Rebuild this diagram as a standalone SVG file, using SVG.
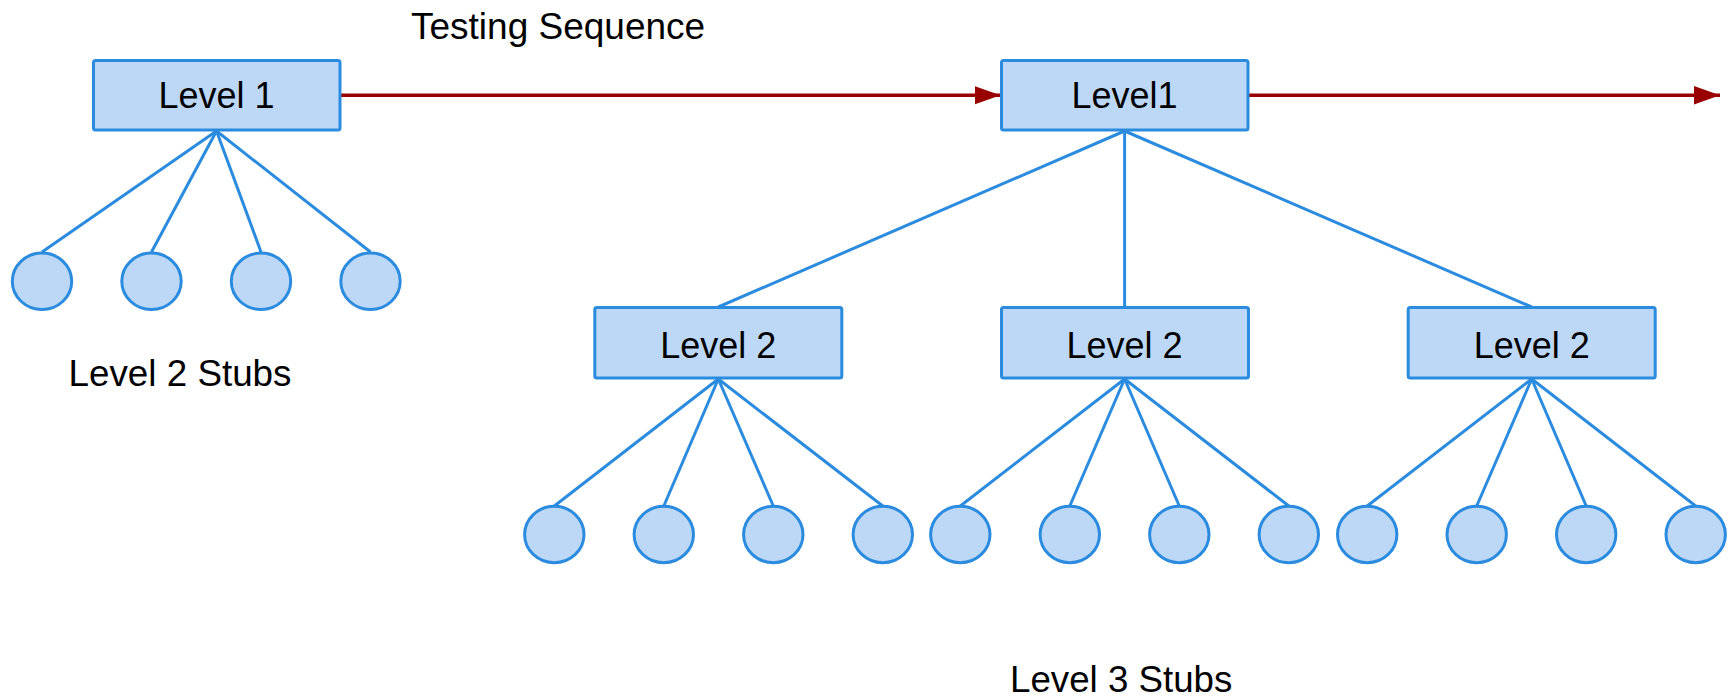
<svg xmlns="http://www.w3.org/2000/svg" width="1733" height="698" viewBox="0 0 1733 698">
<style>
.box{fill:#BCD8F6;stroke:#2B8BDE;stroke-width:3}
.stub{fill:#BCD8F6;stroke:#2B8BDE;stroke-width:3}
.link{stroke:#2B8BDE;stroke-width:3;fill:none}
.seq{stroke:#990000;stroke-width:3.5;fill:none}
text{font-family:"Liberation Sans",Arial,sans-serif;font-size:36px;fill:#000}
.c{text-anchor:middle}
</style>
<defs>
<marker id="ah" markerUnits="userSpaceOnUse" markerWidth="27" markerHeight="19" refX="26" refY="9.2" orient="auto">
<path d="M0,0 L26,9.2 L0,18.4 z" fill="#990000"/>
</marker>
</defs>
<rect width="1733" height="698" fill="#fff"/>
<g id="connectors">
<line class="seq" x1="341" y1="95.3" x2="1000.5" y2="95.3" marker-end="url(#ah)"/>
<line class="seq" x1="1249" y1="95.3" x2="1720" y2="95.3" marker-end="url(#ah)"/>
<line class="link" x1="216.5" y1="131" x2="42" y2="252"/>
<line class="link" x1="216.5" y1="131" x2="151.5" y2="252"/>
<line class="link" x1="216.5" y1="131" x2="261" y2="252"/>
<line class="link" x1="216.5" y1="131" x2="370.5" y2="252"/>
<line class="link" x1="1124.6" y1="131" x2="718.3" y2="307"/>
<line class="link" x1="1124.6" y1="131" x2="1124.6" y2="307"/>
<line class="link" x1="1124.6" y1="131" x2="1531.7" y2="307"/>
<line class="link" x1="718.3" y1="379" x2="554.3" y2="506"/>
<line class="link" x1="718.3" y1="379" x2="663.8" y2="506"/>
<line class="link" x1="718.3" y1="379" x2="773.3" y2="506"/>
<line class="link" x1="718.3" y1="379" x2="882.8" y2="506"/>
<line class="link" x1="1124.6" y1="379" x2="960.3" y2="506"/>
<line class="link" x1="1124.6" y1="379" x2="1069.8" y2="506"/>
<line class="link" x1="1124.6" y1="379" x2="1179.3" y2="506"/>
<line class="link" x1="1124.6" y1="379" x2="1288.8" y2="506"/>
<line class="link" x1="1531.7" y1="379" x2="1367.2" y2="506"/>
<line class="link" x1="1531.7" y1="379" x2="1476.7" y2="506"/>
<line class="link" x1="1531.7" y1="379" x2="1586.2" y2="506"/>
<line class="link" x1="1531.7" y1="379" x2="1695.7" y2="506"/>
</g>
<g id="level1-a">
<rect class="box" x="93.5" y="60.5" width="246.5" height="69.5" rx="2"/>
<text class="c" x="216.5" y="108">Level 1</text>
</g>
<g id="level1-b">
<rect class="box" x="1001.5" y="60.5" width="246.5" height="69.5" rx="2"/>
<text class="c" x="1124.6" y="108">Level1</text>
</g>
<g id="level2-a">
<rect class="box" x="594.8" y="307.5" width="247" height="70.5" rx="2"/>
<text class="c" x="718.3" y="357.5">Level 2</text>
</g>
<g id="level2-b">
<rect class="box" x="1001.5" y="307.5" width="247" height="70.5" rx="2"/>
<text class="c" x="1124.6" y="357.5">Level 2</text>
</g>
<g id="level2-c">
<rect class="box" x="1408.2" y="307.5" width="247" height="70.5" rx="2"/>
<text class="c" x="1531.7" y="357.5">Level 2</text>
</g>
<g id="stubs-l2">
<ellipse class="stub" cx="42" cy="281.3" rx="29.7" ry="28.2"/>
<ellipse class="stub" cx="151.5" cy="281.3" rx="29.7" ry="28.2"/>
<ellipse class="stub" cx="261" cy="281.3" rx="29.7" ry="28.2"/>
<ellipse class="stub" cx="370.5" cy="281.3" rx="29.7" ry="28.2"/>
</g>
<g id="stubs-l3-a">
<ellipse class="stub" cx="554.3" cy="534.5" rx="29.7" ry="28.2"/>
<ellipse class="stub" cx="663.8" cy="534.5" rx="29.7" ry="28.2"/>
<ellipse class="stub" cx="773.3" cy="534.5" rx="29.7" ry="28.2"/>
<ellipse class="stub" cx="882.8" cy="534.5" rx="29.7" ry="28.2"/>
</g>
<g id="stubs-l3-b">
<ellipse class="stub" cx="960.3" cy="534.5" rx="29.7" ry="28.2"/>
<ellipse class="stub" cx="1069.8" cy="534.5" rx="29.7" ry="28.2"/>
<ellipse class="stub" cx="1179.3" cy="534.5" rx="29.7" ry="28.2"/>
<ellipse class="stub" cx="1288.8" cy="534.5" rx="29.7" ry="28.2"/>
</g>
<g id="stubs-l3-c">
<ellipse class="stub" cx="1367.2" cy="534.5" rx="29.7" ry="28.2"/>
<ellipse class="stub" cx="1476.7" cy="534.5" rx="29.7" ry="28.2"/>
<ellipse class="stub" cx="1586.2" cy="534.5" rx="29.7" ry="28.2"/>
<ellipse class="stub" cx="1695.7" cy="534.5" rx="29.7" ry="28.2"/>
</g>
<g id="labels">
<text x="411" y="38.5" style="font-size:37px">Testing Sequence</text>
<text x="68.5" y="386" style="font-size:36.8px">Level 2 Stubs</text>
<text x="1010" y="691.5" style="font-size:36.7px">Level 3 Stubs</text>
</g>
</svg>
